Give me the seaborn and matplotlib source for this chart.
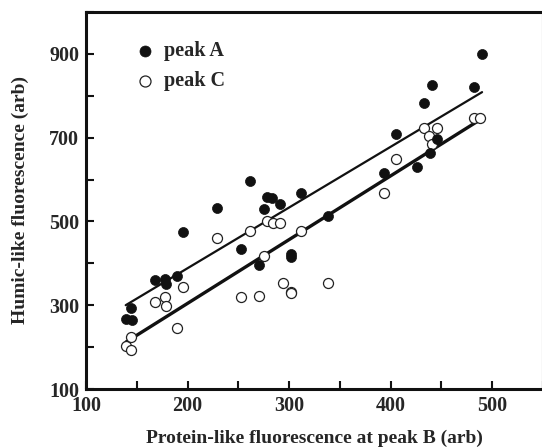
import matplotlib
matplotlib.use("Agg")
import matplotlib.pyplot as plt
import matplotlib.ticker as mticker
import numpy as np
import pandas as pd
import seaborn as sns

# protein-like fluorescence at peak B (x) shared by both series
peak_b = [144.0, 139.1, 145.0, 167.7, 177.8, 178.8, 189.7, 195.9, 228.8, 261.3,
          252.4, 270.4, 275.4, 278.0, 283.0, 291.4, 301.7, 302.3, 311.5, 338.7,
          393.6, 426.4, 438.9, 445.5, 405.1, 433.3, 440.6, 481.6, 490.0]
peak_a = [294, 267, 265, 360, 362, 351, 369, 474, 533, 596,
          435, 396, 530, 559, 555, 541, 422, 416, 567, 513,
          616, 630, 664, 696, 709, 782, 826, 820, 900]

peak_b_c = [139.4, 144.3, 144.0, 167.7, 177.8, 178.8, 189.7, 195.9, 228.8, 252.4,
            261.3, 270.4, 275.4, 278.0, 283.8, 291.4, 294.4, 301.7, 302.3, 311.5,
            338.7, 393.6, 405.1, 433.3, 445.5, 438.2, 440.6, 481.6, 488.0]
peak_c = [203, 193, 225, 308, 320, 298, 245, 344, 460, 320,
          476, 323, 417, 502, 497, 497, 352, 331, 330, 478,
          352, 569, 648, 724, 724, 705, 686, 746, 746]

df_a = pd.DataFrame({"x": peak_b, "y": peak_a})
df_c = pd.DataFrame({"x": peak_b_c, "y": peak_c})

sns.set_style("ticks")
plt.rcParams["font.family"] = ["Liberation Serif", "DejaVu Serif"]
plt.rcParams["font.weight"] = "bold"

fig = plt.figure(figsize=(5.42, 4.48), dpi=100)
ax = fig.add_axes([86 / 542, 59 / 448, 457 / 542, 377 / 448])

# regression lines
sns.regplot(data=df_a, x="x", y="y", scatter=False, ci=None, ax=ax,
            line_kws=dict(color="#111111", linewidth=1.6))
sns.regplot(data=df_c, x="x", y="y", scatter=False, ci=None, ax=ax,
            line_kws=dict(color="#111111", linewidth=2.4))

# points
sns.scatterplot(data=df_c, x="x", y="y", ax=ax, s=52, marker="o",
                facecolor="white", edgecolor="#222222", linewidth=0.9,
                label="peak C", zorder=3)
sns.scatterplot(data=df_a, x="x", y="y", ax=ax, s=52, marker="o",
                color="#111111", edgecolor="#111111", linewidth=0.5,
                label="peak A", zorder=4)

ax.set_xlim(100, 550)
ax.set_ylim(100, 1000)
ax.xaxis.set_major_locator(mticker.MultipleLocator(100))
ax.xaxis.set_minor_locator(mticker.MultipleLocator(50))
ax.yaxis.set_major_locator(mticker.FixedLocator([100, 300, 500, 700, 900]))
ax.yaxis.set_minor_locator(mticker.MultipleLocator(100))
ax.tick_params(axis="both", which="both", direction="in", length=6, width=1.5,
               labelsize=14.5, color="#111111")
ax.tick_params(axis="x", pad=5)
ax.tick_params(axis="y", pad=5)
for lab in ax.get_xticklabels() + ax.get_yticklabels():
    lab.set_fontweight("bold")

for axis in ["top", "bottom", "left", "right"]:
    ax.spines[axis].set_linewidth(2.2)
    ax.spines[axis].set_color("#111111")

ax.set_xlabel("Protein-like fluorescence at peak B (arb)", fontsize=14,
              fontweight="bold", labelpad=10)
ax.set_ylabel("Humic-like fluorescence (arb)", fontsize=14,
              fontweight="bold", labelpad=14)

handles, labels = ax.get_legend_handles_labels()
order = [labels.index("peak A"), labels.index("peak C")]
ax.legend([handles[i] for i in order], [labels[i] for i in order],
          loc="upper left", bbox_to_anchor=(0.108, 0.922), frameon=False,
          prop=dict(size=14.5, weight="bold"), handlelength=1.0,
          handletextpad=0.4, borderpad=0, borderaxespad=0,
          labelspacing=0.5, markerscale=1.1)

fig.savefig("out.png", dpi=100)
